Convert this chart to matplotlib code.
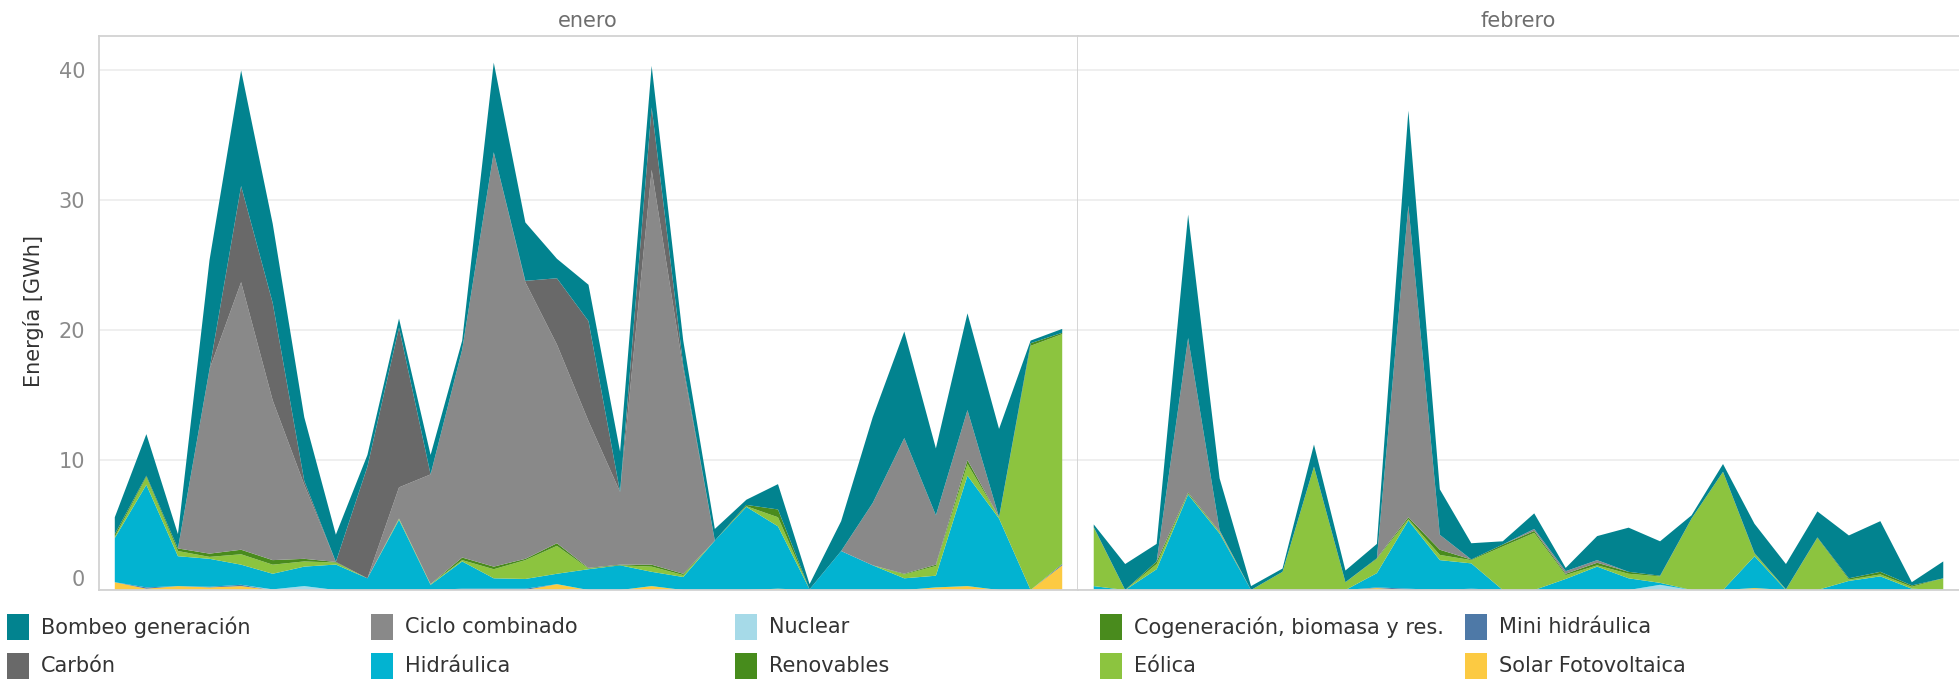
import matplotlib.pyplot as plt
from matplotlib.patches import Rectangle

plt.rcParams['font.family'] = ['DejaVu Sans']

# dias de cada mes
dias_ene = list(range(1, 32))
dias_feb = list(range(1, 29))

# energia [GWh] por tecnologia - enero
solar_ene = [0.6, 0.1, 0.3, 0.2, 0.3, 0, 0, 0, 0, 0, 0, 0, 0, 0, 0.45, 0, 0, 0.3, 0, 0,
             0, 0.1, 0, 0, 0, 0, 0.2, 0.3, 0, 0, 1.9]
mini_ene = [0, 0.1, 0, 0.05, 0.1, 0, 0, 0, 0, 0, 0, 0.1, 0.1, 0.1, 0, 0, 0, 0, 0, 0,
            0, 0, 0, 0, 0, 0, 0, 0, 0, 0, 0.1]
nuclear_ene = [0, 0, 0, 0, 0, 0.05, 0.3, 0, 0, 0, 0, 0, 0, 0, 0, 0, 0, 0, 0, 0,
               0, 0, 0, 0, 0, 0, 0, 0, 0, 0, 0]
hidraulica_ene = [3.4, 7.9, 2.3, 2.15, 1.55, 1.2, 1.5, 1.96, 0.9, 5.4, 0.4, 2.1, 0.8, 0.75, 0.8, 1.6, 1.9, 1.1, 1.0, 3.8,
                  6.4, 4.8, 0.05, 3.0, 1.9, 0.9, 0.9, 8.5, 5.5, 0, 0]
eolica_ene = [0.1, 0.6, 0.4, 0.15, 0.8, 0.7, 0.4, 0.15, 0, 0.1, 0.05, 0.1, 0.7, 1.45, 2.15, 0.05, 0, 0.4, 0.15, 0,
              0.05, 0.7, 0, 0, 0, 0.3, 0.75, 0.9, 0.1, 18.8, 17.7]
cogen_ene = [0.2, 0.1, 0.2, 0.25, 0.35, 0.35, 0.2, 0.05, 0, 0, 0, 0.2, 0.2, 0.1, 0.2, 0.05, 0.05, 0.15, 0.1, 0,
             0.1, 0.6, 0, 0, 0, 0.05, 0.1, 0.3, 0, 0.2, 0.1]
renov_ene = [0] * 31
ciclo_ene = [0, 0, 0, 14.2, 20.6, 12.3, 5.7, 0, 0, 2.4, 8.45, 16.0, 31.9, 21.3, 15.3, 11.3, 5.6, 30.4, 15.75, 0,
             0, 0, 0, 0, 4.8, 10.45, 3.8, 3.85, 0, 0, 0]
carbon_ene = [0, 0, 0, 0, 7.4, 7.5, 0.3, 0, 8.6, 12.3, 0, 0, 0, 0.1, 5.1, 7.7, 0, 4.8, 0.3, 0,
              0, 0, 0, 0, 0, 0, 0, 0, 0, 0, 0]
bombeo_ene = [1.3, 3.2, 1.1, 8.4, 8.9, 6.1, 4.9, 2.1, 0.9, 0.7, 1.5, 0.7, 6.9, 4.5, 1.5, 2.8, 3.1, 3.2, 1.9, 0.9,
              0.4, 1.95, 0.4, 2.3, 6.6, 8.2, 5.15, 7.45, 6.8, 0.2, 0.3]

# energia [GWh] por tecnologia - febrero
solar_feb = [0.05, 0, 0, 0, 0, 0, 0, 0, 0, 0.15, 0, 0, 0, 0, 0, 0, 0, 0, 0, 0,
             0, 0.15, 0, 0, 0, 0, 0, 0]
mini_feb = [0, 0, 0, 0, 0, 0, 0, 0, 0, 0.05, 0.1, 0, 0.1, 0, 0, 0, 0, 0, 0, 0,
            0, 0, 0, 0, 0, 0, 0, 0]
nuclear_feb = [0, 0, 0, 0, 0, 0, 0, 0, 0, 0, 0, 0, 0, 0, 0, 0, 0, 0, 0.4, 0,
               0, 0, 0, 0, 0, 0, 0, 0]
hidraulica_feb = [0.25, 0, 1.6, 7.35, 4.35, 0, 0, 0, 0, 1.1, 5.25, 2.3, 1.95, 0, 0, 0.85, 1.8, 0.9, 0.15, 0,
                  0, 2.45, 0, 0, 0.7, 1.05, 0.1, 0]
eolica_feb = [4.5, 0, 0.4, 0.05, 0.1, 0, 1.4, 9.5, 0.6, 1.1, 0.1, 0.4, 0.25, 3.35, 4.4, 0.3, 0.1, 0.35, 0.5, 5.5,
              9.1, 0.2, 0.05, 4.0, 0.1, 0.15, 0.15, 0.9]
cogen_feb = [0.05, 0, 0.2, 0.1, 0.05, 0, 0, 0, 0, 0.05, 0.15, 0.4, 0.05, 0.15, 0.15, 0.1, 0.2, 0.15, 0.05, 0,
             0, 0.05, 0, 0.05, 0.1, 0.2, 0.1, 0]
renov_feb = [0] * 28
ciclo_feb = [0, 0, 0, 11.9, 0.1, 0, 0, 0, 0, 0, 24.0, 1.15, 0, 0, 0.15, 0.2, 0.2, 0, 0, 0,
             0, 0, 0, 0, 0, 0, 0, 0]
carbon_feb = [0] * 28
bombeo_feb = [0.2, 2.0, 1.35, 9.5, 4.0, 0.3, 0.25, 1.7, 0.9, 1.1, 7.3, 3.5, 1.25, 0.25, 1.2, 0.25, 1.85, 3.4, 2.65, 0.25,
              0.6, 2.25, 1.95, 2.0, 3.3, 3.9, 0.25, 1.3]

# orden de apilado (de abajo hacia arriba)
nombres = ['Solar Fotovoltaica', 'Mini hidráulica', 'Nuclear', 'Hidráulica', 'Eólica',
           'Cogeneración, biomasa y res.', 'Renovables', 'Ciclo combinado', 'Carbón', 'Bombeo generación']
colores = ['#fcca42', '#4e79a7', '#a6dae8', '#02b3d1', '#8cc43f',
           '#498b1d', '#478c1c', '#898989', '#696969', '#02838f']
series_ene = [solar_ene, mini_ene, nuclear_ene, hidraulica_ene, eolica_ene,
              cogen_ene, renov_ene, ciclo_ene, carbon_ene, bombeo_ene]
series_feb = [solar_feb, mini_feb, nuclear_feb, hidraulica_feb, eolica_feb,
              cogen_feb, renov_feb, ciclo_feb, carbon_feb, bombeo_feb]

# orden de la leyenda (2 filas x 5 columnas)
leyenda = [['Bombeo generación', 'Ciclo combinado', 'Nuclear', 'Cogeneración, biomasa y res.', 'Mini hidráulica'],
           ['Carbón', 'Hidráulica', 'Renovables', 'Eólica', 'Solar Fotovoltaica']]

W, H = 1959, 680
fig = plt.figure(figsize=(W / 100, H / 100), dpi=100)


def caja(x0, y0, x1, y1):
    return [x0 / W, 1 - y1 / H, (x1 - x0) / W, (y1 - y0) / H]


ax1 = fig.add_axes(caja(99, 36, 1078, 590))
ax2 = fig.add_axes(caja(1078, 36, 1959, 590))
borde = '#d2d2d2'

for ax, dias, series, n in [(ax1, dias_ene, series_ene, 31), (ax2, dias_feb, series_feb, 28)]:
    ax.stackplot(dias, *series, colors=colores, lw=0)
    ax.set_xlim(0.5, n + 0.5)
    ax.set_ylim(0, 42.65)
    ax.set_xticks([])
    ax.set_yticks([0, 10, 20, 30, 40])
    ax.yaxis.grid(True, color='#eeeeee', lw=1.3)
    ax.set_axisbelow(True)
    for s in ax.spines.values():
        s.set_color(borde)
        s.set_linewidth(1.3)

ax2.spines['left'].set_visible(False)
ax2.spines['right'].set_visible(False)
ax2.tick_params(axis='y', length=0, labelleft=False)
ax1.tick_params(axis='y', length=0, pad=10, labelsize=15, labelcolor='#8a8a8a')
ax1.yaxis.get_major_ticks()[0].label1.set_verticalalignment('bottom')

fig.text(34 / W, 1 - 311 / H, 'Energía [GWh]', rotation=90, ha='center', va='center',
         fontsize=15, color='#333333')
fig.text(588 / W, 1 - 21 / H, 'enero', ha='center', va='center', fontsize=15, color='#6e6e6e')
fig.text(1518 / W, 1 - 21 / H, 'febrero', ha='center', va='center', fontsize=15, color='#6e6e6e')

cols_x = [7, 371, 735, 1100, 1465]
filas_y = [627, 666]
for fila, nombres_fila in enumerate(leyenda):
    for col, nom in enumerate(nombres_fila):
        c = colores[nombres.index(nom)]
        x, y = cols_x[col], filas_y[fila]
        fig.add_artist(Rectangle((x / W, 1 - (y + 13) / H), 22 / W, 26 / H,
                                 transform=fig.transFigure, color=c, lw=0))
        fig.text((x + 34) / W, 1 - y / H, nom, ha='left', va='center', fontsize=15, color='#333333')

fig.savefig('out.png', dpi=100)
